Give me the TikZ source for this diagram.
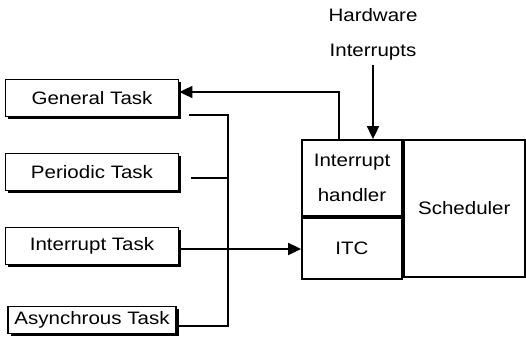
\documentclass[tikz,border=0pt]{standalone}
\usepackage{fontspec}
\setmainfont{Liberation Sans}[FakeStretch=1.14]
\usetikzlibrary{arrows.meta, positioning, shadows}
\tikzstyle{every picture} = [x=1pt, y=1pt, node distance=74pt, line width=1.8pt, >={Triangle[length=13pt,width=12pt]}, font=\fontsize{18}{35}\selectfont]
\tikzstyle{task} = [draw, fill=white, minimum width=173pt, minimum height=37pt, inner sep=2pt, drop shadow={shadow xshift=2.5pt, shadow yshift=-2.5pt, fill=black, opacity=1}]
\tikzstyle{part} = [draw, inner sep=0pt, align=center]

\begin{document}
\begin{tikzpicture}
			\useasboundingbox (0,0) rectangle (526,341);
			% tasks on the left
			\node (general) [task] at (92,243) {General Task};
			\node (periodic) [task, below of= general] {Periodic Task};
			\node (interrupt) [task, below of= periodic] {Interrupt Task};
			\node (async) [task, minimum width=168pt, minimum height=27pt, inner sep=1pt, below of= interrupt] {Asynchrous Task};
			% kernel block
			\node (handler) [part, minimum width=100pt, minimum height=76pt] at (352,163) {Interrupt\\handler};
			\node (itc) [part, minimum width=100pt, minimum height=61pt, below=0pt of handler] {ITC};
			\node (scheduler) [part, minimum width=121pt, minimum height=137pt, anchor=north west] at (handler.north east) {Scheduler};
			\node (hw) [align=center] at (373,306.5) {Hardware\\Interrupts};
			\coordinate (bus) at (228,0);
			\coordinate (periodic out) at ([yshift=-6pt]periodic.east);
			\coordinate (async out) at ([yshift=-6pt]async.east);
			\coordinate (itc in) at ([yshift=-3pt]interrupt.east);
			\draw[->] (hw.south) -- (hw.south |- handler.north);
			\draw[->] ([xshift=-13pt]handler.north) |- ([yshift=6pt]general.east);
			\draw ([shift={(10pt,-17pt)}]general.east) -| (async out -| bus) -- (async out);
			\draw ([xshift=12pt]periodic out) -- (periodic out -| bus);
			\draw[->] (itc in) -- (itc in -| itc.west);
		\end{tikzpicture}
\end{document}
